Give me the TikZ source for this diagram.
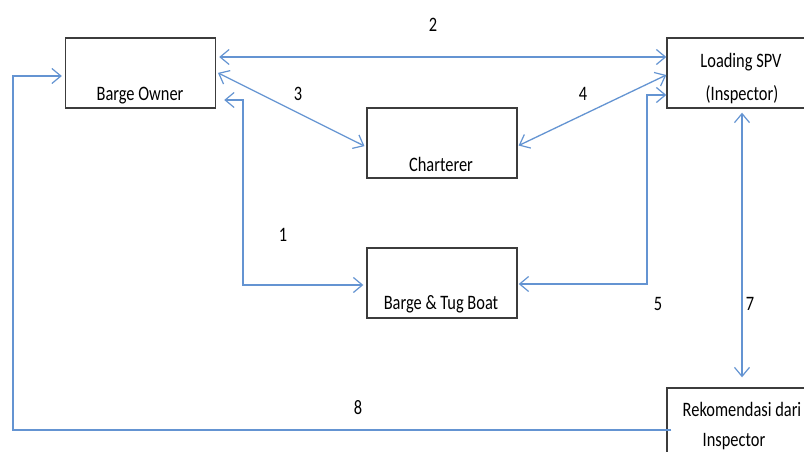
\documentclass[tikz,border=0pt]{standalone}
\usepackage{fontspec}
\setmainfont{Carlito}[FakeStretch=0.8]
\usetikzlibrary{arrows.meta}
\definecolor{arrblue}{RGB}{100,148,210}
\definecolor{boxgray}{RGB}{60,60,60}
\tikzset{
  box/.style={draw=boxgray,line width=1.4pt,minimum width=150pt,minimum height=70pt,inner sep=0pt},
  lbl/.style={anchor=base,inner sep=0pt,font=\fontsize{20.5}{24}\selectfont,text=black},
  arr/.style={draw=arrblue,line width=1.3pt,arrows={Straight Barb[length=9pt,width=15pt,line width=1.2pt]-Straight Barb[length=9pt,width=15pt,line width=1.2pt]}},
  arrend/.style={draw=arrblue,line width=1.3pt,arrows={-Straight Barb[length=9pt,width=15pt,line width=1.2pt]}}
}
\begin{document}
\begin{tikzpicture}[x=1pt,y=-1pt]
\useasboundingbox[fill=white] (0,0) rectangle (804,452);
% boxes
\node[box] (bo) at (140.5,73) {};
\node[box,minimum width=148pt] (spv) at (741,73) {};
\node[box] (ch) at (442,143) {};
\node[box] (bt) at (442,283) {};
\node[box] (rk) at (742,423) {};
% box texts
\node[lbl] (tbo) at (140,100) {Barge Owner};
\node[lbl] (tspv1) at (741,68) {Loading SPV};
\node[lbl] (tspv2) at (742,100) {(Inspector)};
\node[lbl] (tch) at (441,171) {Charterer};
\node[lbl] (tbt) at (441,309) {Barge \& Tug Boat};
\node[lbl] (trk1) at (742,416) {Rekomendasi dari};
\node[lbl] (trk2) at (734,446) {Inspector};
% connectors
\draw[arr,shorten <=3pt] (bo.east |- 0,57) -- (spv.west |- 0,57);
\draw[arr,shorten <=2pt,shorten >=2pt] (bo.east |- 0,72) -- (ch.west |- 0,147);
\draw[arr,shorten >=1pt] (spv.west |- 0,75) -- (ch.east |- 0,146);
\draw[arr,shorten <=8pt,shorten >=3pt] (bo.east |- 0,100) -- (243,100) |- (bt.west |- 0,285);
\draw[arr,shorten >=1pt] (spv.west |- 0,95) -- (647,95) |- (bt.east |- 0,284);
\draw[arr,shorten <=4pt,shorten >=10pt] (spv.south -| 742,0) -- (rk.north -| 742,0);
\draw[arrend,shorten >=3pt] ([xshift=5pt]rk.west |- 0,430) -- (13,430) |- (bo.west |- 0,76);
% numbers
\node[lbl] (n2) at (433,32) {2};
\node[lbl] (n3) at (298,100) {3};
\node[lbl] (n4) at (583,100) {4};
\node[lbl] (n1) at (283,241) {1};
\node[lbl] (n5) at (658,310) {5};
\node[lbl] (n7) at (750,310) {7};
\node[lbl] (n8) at (358,414) {8};
\end{tikzpicture}
\end{document}
